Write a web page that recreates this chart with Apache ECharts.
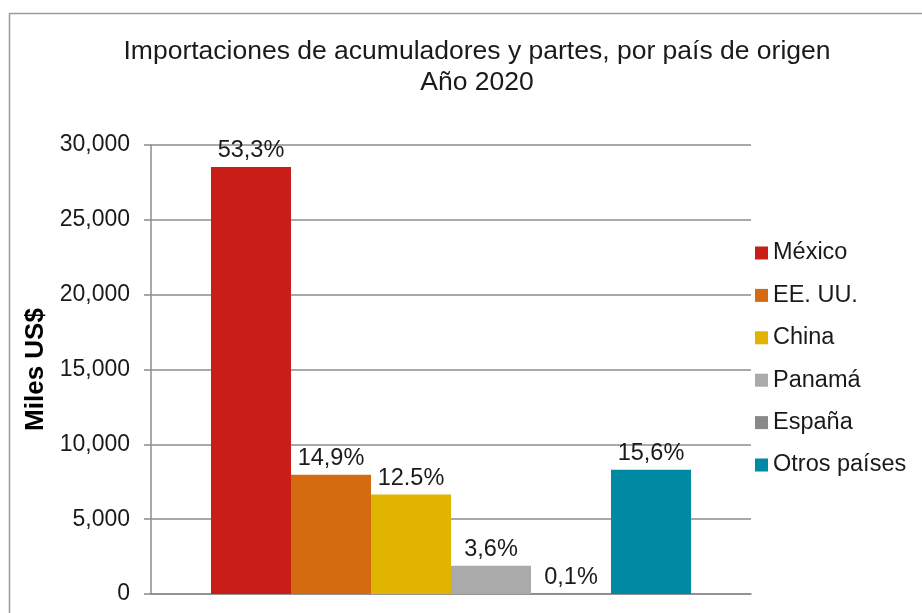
<!DOCTYPE html>
<html>
<head>
<meta charset="utf-8">
<script src="https://cdn.jsdelivr.net/npm/echarts@6/dist/echarts.min.js"></script>
<style>html,body{margin:0;padding:0;background:#fff}#c{width:922px;height:613px}</style>
</head>
<body>
<div id="c"></div>
<script>
const titleLines = ["Importaciones de acumuladores y partes, por país de origen", "Año 2020"];
const categories = [""];
const countries = ["México", "EE. UU.", "China", "Panamá", "España", "Otros países"];
const values = [28530, 7960, 6650, 1890, 60, 8310];
const pctLabels = ["53,3%", "14,9%", "12.5%", "3,6%", "0,1%", "15,6%"];
const colors = ["#C81E17", "#D46B10", "#E0B400", "#AAAAAA", "#898989", "#0089A3"];
const yTicks = { min: 0, max: 30000, interval: 5000 };
const yName = "Miles US$";

const font = "Liberation Sans, Arial, sans-serif";
const chart = echarts.init(document.getElementById('c'), null, { renderer: 'canvas' });

const series = countries.map((name, i) => ({
  name: name,
  type: 'bar',
  data: [values[i]],
  itemStyle: { color: colors[i] },
  barGap: '0%',
  barCategoryGap: '20%',
  label: {
    show: true,
    position: 'top',
    distance: 4,
    formatter: () => pctLabels[i],
    fontFamily: font,
    fontSize: 23.5,
    color: '#1a1a1a'
  }
}));

chart.setOption({
  animation: false,
  backgroundColor: '#fff',
  title: {
    text: titleLines.join('\n'),
    left: 472,
    textAlign: 'center',
    top: 31,
    textStyle: { fontFamily: font, fontSize: 26.5, fontWeight: 'normal', color: '#1a1a1a', lineHeight: 31 }
  },
  graphic: [{
    type: 'rect',
    shape: { x: 9.5, y: 13.5, width: 930, height: 620 },
    style: { fill: 'none', stroke: '#9a9a9a', lineWidth: 1.5 },
    silent: true, z: -1
  }],
  legend: {
    orient: 'vertical',
    left: 750,
    top: 236,
    itemWidth: 13,
    itemHeight: 13,
    itemGap: 18.4,
    icon: 'rect',
    textStyle: { fontFamily: font, fontSize: 23.5, lineHeight: 24, color: '#1a1a1a' },
    data: countries
  },
  grid: { left: 151, top: 145, right: 171, bottom: 19, containLabel: false },
  xAxis: {
    type: 'category',
    data: categories,
    axisLine: { show: true, lineStyle: { color: '#8c8c8c', width: 1.5 } },
    axisTick: { show: false },
    axisLabel: { show: false }
  },
  yAxis: {
    type: 'value',
    min: yTicks.min,
    max: yTicks.max,
    interval: yTicks.interval,
    name: yName,
    nameLocation: 'middle',
    nameGap: 91,
    nameRotate: 90,
    nameTextStyle: { fontFamily: font, fontSize: 26, fontWeight: 'bold', color: '#000' },
    axisLine: { show: true, lineStyle: { color: '#8c8c8c', width: 1.5 } },
    axisTick: { show: true, inside: false, length: 7, lineStyle: { color: '#8c8c8c', width: 1.5 } },
    axisLabel: {
      margin: 21,
      fontFamily: font,
      fontSize: 23,
      color: '#1a1a1a',
      formatter: v => v.toLocaleString('en-US')
    },
    splitLine: { show: true, lineStyle: { color: '#8c8c8c', width: 1.5 } }
  },
  series: series
});
</script>
</body>
</html>
